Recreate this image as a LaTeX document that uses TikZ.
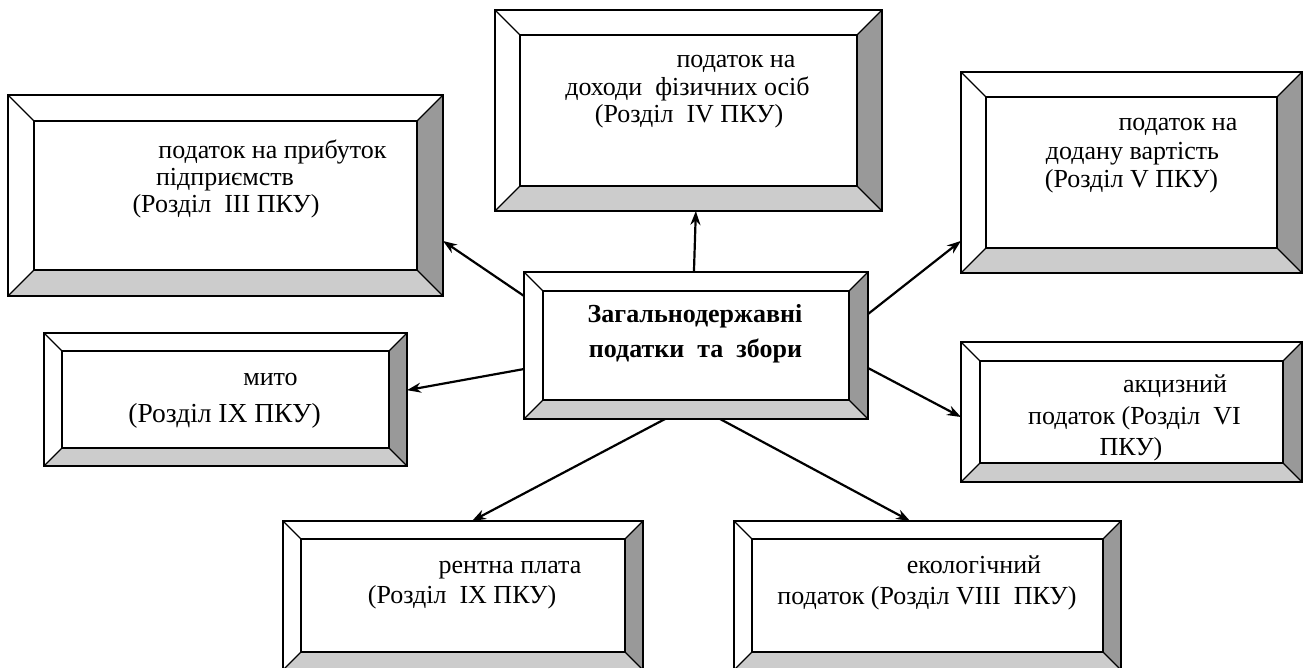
\documentclass[tikz,border=0pt]{standalone}
\usepackage{fontspec}
\setmainfont{Liberation Serif}
\usetikzlibrary{calc,arrows.meta}
\definecolor{bevdark}{HTML}{999999}
\definecolor{bevlight}{HTML}{CCCCCC}
\tikzset{
  boxn/.style={rectangle, inner sep=0pt, outer sep=0pt, anchor=north west},
  txt/.style={inner sep=0pt, outer sep=0pt, anchor=base, font=\fontsize{26}{28}\selectfont},
  btxt/.style={txt, font=\fontsize{26}{28}\selectfont\bfseries},
  arr/.style={line width=2.2pt, -{Stealth[length=14pt,width=10pt]}},
  edge/.style={line width=2.2pt},
  diag/.style={line width=1.2pt},
}
\newcommand\bevelbox[6]{%
  \node[boxn, minimum width={(#4-#2)*1pt}, minimum height={(#5-#3)*1pt}] (#1) at (#2,#3) {};
  \fill[white] (#1.north west) rectangle (#1.south east);
  \fill[bevdark] (#1.north east) -- (#1.south east) -- ($(#1.south east)+(-#6,-#6)$) -- ($(#1.north east)+(-#6,#6)$) -- cycle;
  \fill[bevlight] (#1.south west) -- (#1.south east) -- ($(#1.south east)+(-#6,-#6)$) -- ($(#1.south west)+(#6,-#6)$) -- cycle;
  \draw[diag] (#1.north west) -- ($(#1.north west)+(#6,#6)$);
  \draw[diag] (#1.north east) -- ($(#1.north east)+(-#6,#6)$);
  \draw[diag] (#1.south west) -- ($(#1.south west)+(#6,-#6)$);
  \draw[diag] (#1.south east) -- ($(#1.south east)+(-#6,-#6)$);
  \draw[edge] ($(#1.north west)+(#6,#6)$) rectangle ($(#1.south east)+(-#6,-#6)$);
  \draw[edge] (#1.north west) rectangle (#1.south east);
}
\begin{document}
\begin{tikzpicture}[x=1pt,y=-1pt]
\useasboundingbox (0,0) rectangle (1304,668);
\begin{scope}
\clip (0,0) rectangle (1304,668);
\bevelbox{b1}{8}{95}{443}{296}{26}
\bevelbox{b2}{495}{10}{882}{211}{25}
\bevelbox{b3}{961}{72}{1302}{273}{25}
\bevelbox{b4}{44}{333}{407}{466}{18}
\bevelbox{b5}{961}{342}{1302}{482}{19}
\bevelbox{b6}{283}{521}{643}{670}{18}
\bevelbox{b7}{734}{521}{1121}{670}{18}
\bevelbox{c}{524}{272}{868}{419}{19}
\end{scope}

% texts
\node[txt] (t1a) at (272.5,159) {податок на прибуток};
\node[txt] (t1b) at (225,186) {підприємств};
\node[txt] (t1c) at (226,213) {(Розділ~ III ПКУ)};

\node[txt] (t2a) at (736,68) {податок на};
\node[txt] (t2b) at (687.5,96) {доходи~ фізичних осіб};
\node[txt] (t2c) at (689,123) {(Розділ~ IV ПКУ)};

\node[txt] (t3a) at (1178,131) {податок на};
\node[txt] (t3b) at (1132.5,160) {додану вартість};
\node[txt] (t3c) at (1131.5,188) {(Розділ V ПКУ)};

\node[txt] (t4a) at (270.5,385) {мито};
\node[txt, font=\fontsize{27.5}{30}\selectfont] (t4b) at (224.5,422) {(Розділ IX ПКУ)};

\node[txt] (t5a) at (1175,392) {акцизний};
\node[txt] (t5b) at (1134.5,424) {податок (Розділ~ VI};
\node[txt] (t5c) at (1131,455) {ПКУ)};

\node[txt] (t6a) at (510,573) {рентна плата};
\node[txt] (t6b) at (462,603) {(Розділ~ IX ПКУ)};

\node[txt] (t7a) at (974,573) {екологічний};
\node[txt] (t7b) at (927,604) {податок (Розділ VIII~ ПКУ)};

\node[btxt] (tca) at (695,323) {Загальнодержавні};
\node[btxt] (tcb) at (695.5,357) {податки~ та~ збори};

% connectors
\draw[arr] ($(c.north west)!0.163!(c.south west)$) -- ($(b1.north east)!0.726!(b1.south east)$);
\draw[arr] ($(c.north west)!0.66!(c.south west)$) -- ($(b4.north east)!0.43!(b4.south east)$);
\draw[arr] ($(c.north west)!0.494!(c.north east)$) -- ($(b2.south west)!0.519!(b2.south east)$);
\draw[arr] ($(c.north east)!0.286!(c.south east)$) -- ($(b3.north west)!0.84!(b3.south west)$);
\draw[arr] ($(c.north east)!0.653!(c.south east)$) -- ($(b5.north west)!0.536!(b5.south west)$);
\draw[arr] ($(c.south west)!0.41!(c.south east)$) -- ($(b6.north west)!0.525!(b6.north east)$);
\draw[arr] ($(c.south west)!0.57!(c.south east)$) -- ($(b7.north west)!0.455!(b7.north east)$);
\end{tikzpicture}
\end{document}
